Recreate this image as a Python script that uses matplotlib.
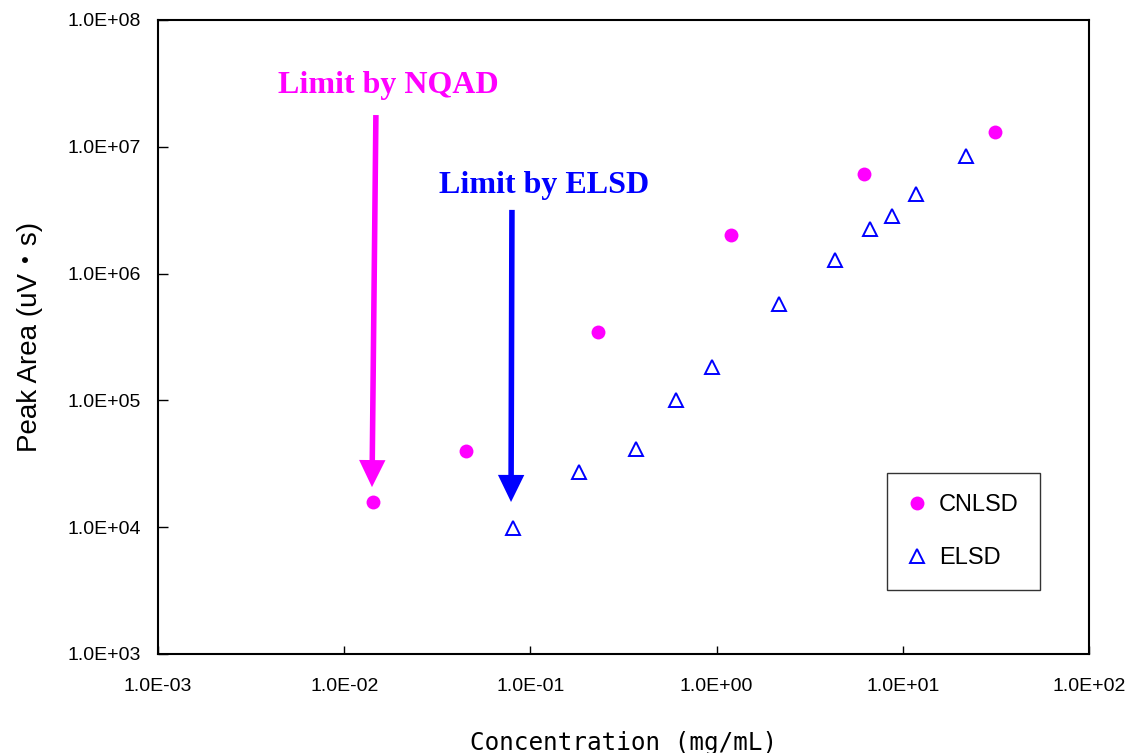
import matplotlib
matplotlib.use("Agg")
import matplotlib.pyplot as plt
from matplotlib.ticker import FixedLocator, FuncFormatter, NullLocator

plt.rcParams['font.family'] = ['Liberation Sans', 'Noto Sans CJK JP', 'DejaVu Sans']

# Data
cnlsd_x = [0.0143, 0.045, 0.231, 1.19, 6.19, 31.3]
cnlsd_y = [1.58e4, 3.99e4, 3.46e5, 2.02e6, 6.1e6, 1.31e7]
elsd_x = [0.0807, 0.182, 0.369, 0.605, 0.944, 2.16, 4.32, 6.67, 8.75, 11.8, 21.8]
elsd_y = [9.86e3, 2.72e4, 4.14e4, 1.0e5, 1.83e5, 5.75e5, 1.28e6, 2.25e6, 2.85e6, 4.25e6, 8.45e6]
x_ticks = [1e-3, 1e-2, 1e-1, 1e0, 1e1, 1e2]
y_ticks = [1e3, 1e4, 1e5, 1e6, 1e7, 1e8]

MAGENTA = '#FF00FF'
BLUE = '#0000FF'

fig = plt.figure(figsize=(11.29, 7.53), dpi=100)
ax = fig.add_axes([158/1129, 1-654/753, (1089-158)/1129, (654-20)/753])
ax.set_xscale('log')
ax.set_yscale('log')
ax.set_xlim(1e-3, 1e2)
ax.set_ylim(1e3, 1e8)

ax.plot(cnlsd_x, cnlsd_y, linestyle='none', marker='o', markersize=10,
        color=MAGENTA, markeredgewidth=0, label='CNLSD')
ax.plot(elsd_x, elsd_y, linestyle='none', marker='^', markersize=10,
        markerfacecolor='none', markeredgecolor=BLUE, markeredgewidth=1.4, label='ELSD')

fmt = FuncFormatter(lambda v, p: f"{v:.1E}")
ax.xaxis.set_major_locator(FixedLocator(x_ticks))
ax.yaxis.set_major_locator(FixedLocator(y_ticks))
ax.xaxis.set_minor_locator(NullLocator())
ax.yaxis.set_minor_locator(NullLocator())
ax.xaxis.set_major_formatter(fmt)
ax.yaxis.set_major_formatter(fmt)
ax.tick_params(axis='both', direction='in', labelsize=14, width=1, color='black')
ax.tick_params(axis='x', length=6, pad=17)
ax.tick_params(axis='y', length=7, pad=12)
for s in ax.spines.values():
    s.set_linewidth(1.5)
    s.set_color('black')

ax.set_xlabel('Concentration (mg/mL)', fontsize=17.5, labelpad=26,
              family=['DejaVu Sans Mono', 'Noto Sans CJK JP'])
ax.set_ylabel('Peak Area (uV・s)', fontsize=20, labelpad=18)

# Arrows and annotations
arrow_kw = dict(width=4.0, headwidth=19, headlength=19.5, shrink=0, linewidth=0)
ax.annotate('', xy=(0.0141, 2.07e4), xytext=(0.0148, 1.78e7),
            arrowprops=dict(facecolor=MAGENTA, edgecolor=MAGENTA, **arrow_kw))
ax.annotate('', xy=(0.0787, 1.58e4), xytext=(0.0796, 3.18e6),
            arrowprops=dict(facecolor=BLUE, edgecolor=BLUE, **arrow_kw))
ax.text((388-158)/(1089-158), 1-(85-20)/(654-20), 'Limit by NQAD',
        transform=ax.transAxes, ha='center', va='center', color=MAGENTA,
        fontsize=23, fontweight='bold', family='Liberation Serif')
ax.text((544-158)/(1089-158), 1-(185-20)/(654-20), 'Limit by ELSD',
        transform=ax.transAxes, ha='center', va='center', color=BLUE,
        fontsize=23, fontweight='bold', family='Liberation Serif')

leg = ax.legend(loc='upper left',
                bbox_to_anchor=((887-158)/(1089-158), 1-(473-20)/(654-20)),
                frameon=True, fancybox=False, fontsize=17, handlelength=0.75,
                handletextpad=0.55, labelspacing=1.3, borderpad=0.9,
                borderaxespad=0)
leg.get_frame().set_edgecolor('black')
leg.get_frame().set_linewidth(1.0)

fig.savefig('out.png', dpi=100)
